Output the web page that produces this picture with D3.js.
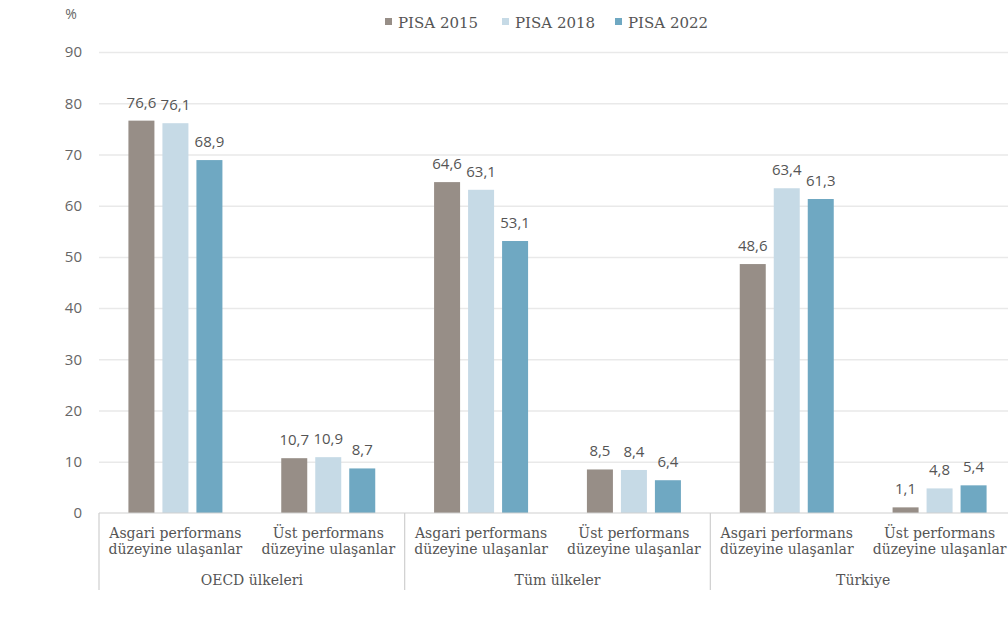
<!DOCTYPE html>
<html><head><meta charset="utf-8">
<script src="https://cdn.jsdelivr.net/npm/d3@7"></script>
<style>html,body{margin:0;padding:0;background:#fff;overflow:hidden}</style>
</head><body><div id="chart"></div>
<script>
const groups = ["OECD ülkeleri", "Tüm ülkeler", "Türkiye"];
const subcats = [["Asgari performans", "düzeyine ulaşanlar"], ["Üst performans", "düzeyine ulaşanlar"]];
const series = ["PISA 2015", "PISA 2018", "PISA 2022"];
const colors = ["#978e87", "#c6dae6", "#6fa8c2"];
const pisa2015 = [76.6, 10.7, 64.6, 8.5, 48.6, 1.1];
const pisa2018 = [76.1, 10.9, 63.1, 8.4, 63.4, 4.8];
const pisa2022 = [68.9, 8.7, 53.1, 6.4, 61.3, 5.4];
const yTicks = [0, 10, 20, 30, 40, 50, 60, 70, 80, 90];
const yUnit = "%";

const values = [pisa2015, pisa2018, pisa2022];
const W = 1008, H = 619;
const svg = d3.select("#chart").append("svg").attr("width", W).attr("height", H);

const left = 99, right = 1016, y0 = 513, yTop = 52;
const y = d3.scaleLinear().domain([0, 90]).range([y0, yTop]);

const cells = [];
groups.forEach((g, gi) => subcats.forEach((s, si) => cells.push({g, gi, s, si, idx: gi * subcats.length + si})));
const x0 = d3.scaleBand().domain(cells.map(c => c.idx)).range([left, right]).padding(0);
const bw = x0.bandwidth();
const x1 = d3.scaleBand().domain(series).range([bw / 2 - 47, bw / 2 + 47]).paddingInner(8 / 34);
const xg = d3.scaleBand().domain(groups).range([left, right]).padding(0);

// gridlines
const yAxis = d3.axisLeft(y).tickValues(yTicks).tickSize(-(right - left)).tickFormat(d3.format("d"));
const ga = svg.append("g").attr("transform", `translate(${left},0)`).call(yAxis);
ga.select(".domain").remove();
ga.selectAll(".tick line").attr("stroke", "#e9e9e9").attr("stroke-width", 1.5);
ga.selectAll(".tick text").attr("x", -17).attr("fill", "#666")
  .style("font-family", "'Open Sans'").style("font-size", "15px");
ga.selectAll(".tick").filter(d => d === 0).select("line").attr("stroke", "none");

svg.append("text").attr("x", 71).attr("y", 19).attr("text-anchor", "middle")
  .attr("fill", "#666").style("font-family", "'Open Sans'").style("font-size", "14px").text(yUnit);

// bars
const barData = [];
cells.forEach(c => series.forEach((s, k) => barData.push({c, s, k, v: values[k][c.idx]})));
svg.append("g").selectAll("rect").data(barData).join("rect")
  .attr("x", d => x0(d.c.idx) + x1(d.s))
  .attr("y", d => y(d.v))
  .attr("width", x1.bandwidth())
  .attr("height", d => y0 - y(d.v))
  .attr("fill", d => colors[d.k]);

svg.append("g").selectAll("text").data(barData).join("text")
  .attr("x", d => x0(d.c.idx) + x1(d.s) + x1.bandwidth() / 2)
  .attr("y", d => y(d.v) - 13)
  .attr("text-anchor", "middle").attr("fill", "#555")
  .style("font-family", "'Open Sans'").style("font-size", "15px")
  .text(d => d3.format(".1f")(d.v).replace(".", ","));

// bottom axis
svg.append("line").attr("x1", left).attr("x2", right).attr("y1", y0).attr("y2", y0)
  .attr("stroke", "#cfcfcf").attr("stroke-width", 1.2);
const divs = groups.map(g => xg(g));
svg.append("g").selectAll("line").data(divs).join("line")
  .attr("x1", d => d).attr("x2", d => d).attr("y1", y0).attr("y2", 590)
  .attr("stroke", "#cfcfcf").attr("stroke-width", 1.2);

const lab = svg.append("g").style("font-family", "'DejaVu Serif'").style("font-size", "14px").attr("fill", "#555");
cells.forEach(c => {
  c.s.forEach((line, li) => {
    lab.append("text").attr("x", x0(c.idx) + bw / 2).attr("y", 538 + li * 16)
      .attr("text-anchor", "middle").text(line);
  });
});
groups.forEach(g => {
  lab.append("text").attr("x", xg(g) + xg.bandwidth() / 2).attr("y", 585)
    .attr("text-anchor", "middle").text(g);
});

// legend
const legX = [385, 502, 615];
const leg = svg.append("g").style("font-family", "'DejaVu Serif'").style("font-size", "15px");
series.forEach((s, k) => {
  leg.append("rect").attr("x", legX[k]).attr("y", 18).attr("width", 7).attr("height", 7).attr("fill", colors[k]);
  leg.append("text").attr("x", legX[k] + 13).attr("y", 28).attr("fill", "#555").text(s);
});
</script></body></html>
